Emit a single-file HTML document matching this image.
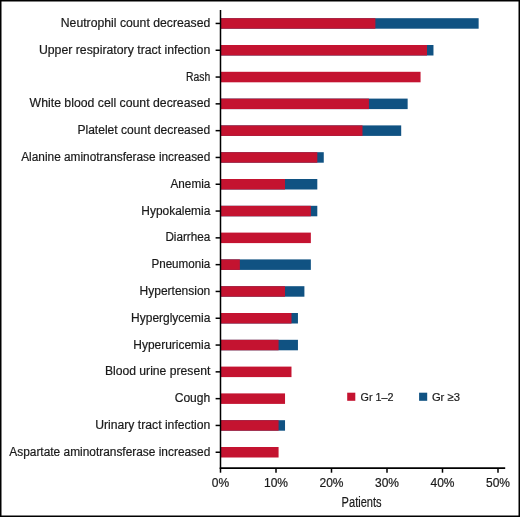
<!DOCTYPE html><html><head><meta charset="utf-8"><style>html,body{margin:0;padding:0;background:#fff;width:520px;height:517px;overflow:hidden}svg{display:block;will-change:transform}text{font-family:"Liberation Sans",sans-serif;fill:#1A1A1A;stroke:#1A1A1A;stroke-width:0.2px}</style></head><body>
<svg width="520" height="517" viewBox="0 0 520 517">
<rect x="0" y="0" width="520" height="517" fill="#fff"/>
<rect x="220.50" y="18.20" width="258.14" height="10.5" fill="#105282"/>
<rect x="220.50" y="18.20" width="154.88" height="10.5" fill="#C41330"/>
<rect x="220.50" y="45.00" width="212.97" height="10.5" fill="#105282"/>
<rect x="220.50" y="45.00" width="206.51" height="10.5" fill="#C41330"/>
<rect x="220.50" y="71.80" width="200.06" height="10.5" fill="#C41330"/>
<rect x="220.50" y="98.60" width="187.15" height="10.5" fill="#105282"/>
<rect x="220.50" y="98.60" width="148.43" height="10.5" fill="#C41330"/>
<rect x="220.50" y="125.40" width="180.70" height="10.5" fill="#105282"/>
<rect x="220.50" y="125.40" width="141.98" height="10.5" fill="#C41330"/>
<rect x="220.50" y="152.20" width="103.26" height="10.5" fill="#105282"/>
<rect x="220.50" y="152.20" width="96.80" height="10.5" fill="#C41330"/>
<rect x="220.50" y="179.00" width="96.80" height="10.5" fill="#105282"/>
<rect x="220.50" y="179.00" width="64.53" height="10.5" fill="#C41330"/>
<rect x="220.50" y="205.80" width="96.80" height="10.5" fill="#105282"/>
<rect x="220.50" y="205.80" width="90.35" height="10.5" fill="#C41330"/>
<rect x="220.50" y="232.60" width="90.35" height="10.5" fill="#C41330"/>
<rect x="220.50" y="259.40" width="90.35" height="10.5" fill="#105282"/>
<rect x="220.50" y="259.40" width="19.36" height="10.5" fill="#C41330"/>
<rect x="220.50" y="286.20" width="83.90" height="10.5" fill="#105282"/>
<rect x="220.50" y="286.20" width="64.53" height="10.5" fill="#C41330"/>
<rect x="220.50" y="313.00" width="77.44" height="10.5" fill="#105282"/>
<rect x="220.50" y="313.00" width="70.99" height="10.5" fill="#C41330"/>
<rect x="220.50" y="339.80" width="77.44" height="10.5" fill="#105282"/>
<rect x="220.50" y="339.80" width="58.08" height="10.5" fill="#C41330"/>
<rect x="220.50" y="366.60" width="70.99" height="10.5" fill="#C41330"/>
<rect x="220.50" y="393.40" width="64.53" height="10.5" fill="#C41330"/>
<rect x="220.50" y="420.20" width="64.53" height="10.5" fill="#105282"/>
<rect x="220.50" y="420.20" width="58.08" height="10.5" fill="#C41330"/>
<rect x="220.50" y="447.00" width="58.08" height="10.5" fill="#C41330"/>
<g stroke="#000" stroke-width="1.5" fill="none">
<line x1="220.5" y1="10" x2="220.5" y2="468.75"/>
<line x1="219.75" y1="468.1" x2="505.2" y2="468.1" stroke-width="1.7"/>
<line x1="215.6" y1="23.45" x2="220.5" y2="23.45"/>
<line x1="215.6" y1="50.25" x2="220.5" y2="50.25"/>
<line x1="215.6" y1="77.05" x2="220.5" y2="77.05"/>
<line x1="215.6" y1="103.85" x2="220.5" y2="103.85"/>
<line x1="215.6" y1="130.65" x2="220.5" y2="130.65"/>
<line x1="215.6" y1="157.45" x2="220.5" y2="157.45"/>
<line x1="215.6" y1="184.25" x2="220.5" y2="184.25"/>
<line x1="215.6" y1="211.05" x2="220.5" y2="211.05"/>
<line x1="215.6" y1="237.85" x2="220.5" y2="237.85"/>
<line x1="215.6" y1="264.65" x2="220.5" y2="264.65"/>
<line x1="215.6" y1="291.45" x2="220.5" y2="291.45"/>
<line x1="215.6" y1="318.25" x2="220.5" y2="318.25"/>
<line x1="215.6" y1="345.05" x2="220.5" y2="345.05"/>
<line x1="215.6" y1="371.85" x2="220.5" y2="371.85"/>
<line x1="215.6" y1="398.65" x2="220.5" y2="398.65"/>
<line x1="215.6" y1="425.45" x2="220.5" y2="425.45"/>
<line x1="215.6" y1="452.25" x2="220.5" y2="452.25"/>
<line x1="220.50" y1="468" x2="220.50" y2="472.7"/>
<line x1="276.00" y1="468" x2="276.00" y2="472.7"/>
<line x1="331.50" y1="468" x2="331.50" y2="472.7"/>
<line x1="387.00" y1="468" x2="387.00" y2="472.7"/>
<line x1="442.50" y1="468" x2="442.50" y2="472.7"/>
<line x1="498.00" y1="468" x2="498.00" y2="472.7"/>
</g>
<text x="60.80" y="26.95" font-size="12" textLength="149.50" lengthAdjust="spacingAndGlyphs">Neutrophil count decreased</text>
<text x="38.90" y="53.75" font-size="12" textLength="171.40" lengthAdjust="spacingAndGlyphs">Upper respiratory tract infection</text>
<text x="186.10" y="80.55" font-size="12" textLength="24.20" lengthAdjust="spacingAndGlyphs">Rash</text>
<text x="29.60" y="107.35" font-size="12" textLength="180.70" lengthAdjust="spacingAndGlyphs">White blood cell count decreased</text>
<text x="77.40" y="134.15" font-size="12" textLength="132.90" lengthAdjust="spacingAndGlyphs">Platelet count decreased</text>
<text x="21.20" y="160.95" font-size="12" textLength="189.10" lengthAdjust="spacingAndGlyphs">Alanine aminotransferase increased</text>
<text x="170.50" y="187.75" font-size="12" textLength="39.80" lengthAdjust="spacingAndGlyphs">Anemia</text>
<text x="141.30" y="214.55" font-size="12" textLength="69.00" lengthAdjust="spacingAndGlyphs">Hypokalemia</text>
<text x="165.40" y="241.35" font-size="12" textLength="44.90" lengthAdjust="spacingAndGlyphs">Diarrhea</text>
<text x="151.40" y="268.15" font-size="12" textLength="58.90" lengthAdjust="spacingAndGlyphs">Pneumonia</text>
<text x="139.60" y="294.95" font-size="12" textLength="70.70" lengthAdjust="spacingAndGlyphs">Hypertension</text>
<text x="131.10" y="321.75" font-size="12" textLength="79.20" lengthAdjust="spacingAndGlyphs">Hyperglycemia</text>
<text x="133.30" y="348.55" font-size="12" textLength="77.00" lengthAdjust="spacingAndGlyphs">Hyperuricemia</text>
<text x="104.90" y="375.35" font-size="12" textLength="105.40" lengthAdjust="spacingAndGlyphs">Blood urine present</text>
<text x="174.70" y="402.15" font-size="12" textLength="35.60" lengthAdjust="spacingAndGlyphs">Cough</text>
<text x="95.20" y="428.95" font-size="12" textLength="115.10" lengthAdjust="spacingAndGlyphs">Urinary tract infection</text>
<text x="9.30" y="455.75" font-size="12" textLength="201.00" lengthAdjust="spacingAndGlyphs">Aspartate aminotransferase increased</text>
<text x="220.50" y="486.6" font-size="12" text-anchor="middle">0%</text>
<text x="276.00" y="486.6" font-size="12" text-anchor="middle">10%</text>
<text x="331.50" y="486.6" font-size="12" text-anchor="middle">20%</text>
<text x="387.00" y="486.6" font-size="12" text-anchor="middle">30%</text>
<text x="442.50" y="486.6" font-size="12" text-anchor="middle">40%</text>
<text x="498.00" y="486.6" font-size="12" text-anchor="middle">50%</text>
<text x="341.6" y="506.5" font-size="14" textLength="40" lengthAdjust="spacingAndGlyphs">Patients</text>
<rect x="347.2" y="392.7" width="8.1" height="8.1" fill="#C41330"/>
<rect x="419.1" y="392.7" width="8.1" height="8.1" fill="#105282"/>
<text x="360.5" y="400.8" font-size="11.7" textLength="33" lengthAdjust="spacingAndGlyphs">Gr 1–2</text>
<text x="431.9" y="400.8" font-size="11.7" textLength="28" lengthAdjust="spacingAndGlyphs">Gr ≥3</text>
<rect x="0.75" y="0.75" width="518.5" height="515.5" fill="none" stroke="#000" stroke-width="1.5"/>
</svg></body></html>
